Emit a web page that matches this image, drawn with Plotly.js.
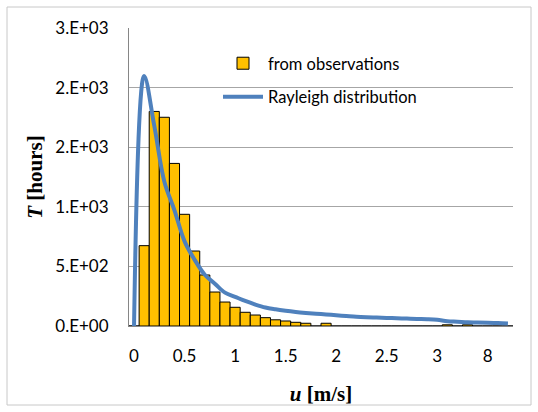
<!DOCTYPE html>
<html>
<head>
<meta charset="utf-8">
<script src="https://cdn.plot.ly/plotly-3.0.1.min.js"></script>
<style>html,body{margin:0;padding:0;background:#fff;}#chart{width:538px;height:412px;}</style>
</head>
<body>
<div id="chart"></div>
<script>
// Category labels (wind speed bins, m/s)
const categories = ['0','0.1','0.2','0.3','0.4','0.5','0.6','0.7','0.8','0.9',
  '1','1.1','1.2','1.3','1.4','1.5','1.6','1.7','1.8','1.9',
  '2','2.1','2.2','2.3','2.4','2.5','2.6','2.7','2.8','2.9',
  '3','4','5','6','7','8','9','10'];
// Hours from observations
const observedHours = [0,674,1800,1751,1364,937,629,428,285,201,
  157,115,92,70,52,42,31,23,0,23,
  0,0,0,0,0,0,0,0,0,0,
  0,10,0,10,0,0,0,0];
// Rayleigh distribution (hours)
const rayleighHours = [0,2098,1680,1210,970,710,555,430,355,280,
  245,210,180,155,140,128,118,110,103,97,
  90,84,78,74,71,68,65,62,59,57,
  52,40,36,31,30,28,25,20];
const xTickVals = ['0','0.5','1','1.5','2','2.5','3','8'];
const yTickVals = [0,500,1000,1500,2000,2500];
const yTickText = ['0.E+00','5.E+02','1.E+03','2.E+03','2.E+03','3.E+03'];

const W = 538, H = 412;
const M = {l: 129, r: 25, t: 28, b: 86};
const pw = W - M.l - M.r, ph = H - M.t - M.b;
const px = v => (v - M.l) / pw;
const py = v => (H - M.b - v) / ph;

const traces = [
  {type: 'bar', name: 'from observations', x: categories, y: observedHours,
   marker: {color: '#FFC000', line: {color: '#000000', width: 1}},
   legendgroup: 'a', hoverinfo: 'skip'},
  {type: 'scatter', mode: 'lines', name: 'Rayleigh distribution', x: categories, y: rayleighHours,
   line: {color: '#4F81BD', width: 4, shape: 'spline', smoothing: 1},
   legendgroup: 'b', hoverinfo: 'skip', cliponaxis: false}
];

const tickFont = {family: 'Lato, "Open Sans", sans-serif', size: 17, color: '#000'};
const titleFont = {family: '"Liberation Serif", "DejaVu Serif", serif', size: 21, color: '#000'};
const layout = {
  width: W, height: H, margin: M,
  paper_bgcolor: '#fff', plot_bgcolor: '#fff',
  bargap: 0, showlegend: true,
  font: tickFont,
  legend: {x: px(218), y: py(46), xanchor: 'left', yanchor: 'top',
    bgcolor: 'rgba(0,0,0,0)', font: {family: 'Lato, sans-serif', size: 16.5, color: '#000'},
    traceorder: 'grouped', tracegroupgap: 9, itemwidth: 40},
  xaxis: {type: 'category', categoryorder: 'array', categoryarray: categories,
    range: [-0.5, categories.length - 0.5], tickmode: 'array', tickvals: xTickVals,
    ticks: '', showgrid: false, showline: true, linecolor: '#868686', linewidth: 1,
    zeroline: false, tickfont: tickFont, ticklabelstandoff: 15,
    title: {text: '<b><i>u</i> [m/s]</b>', font: titleFont, standoff: 20}, automargin: true},
  yaxis: {range: [0, 2500], tickmode: 'array', tickvals: yTickVals, ticktext: yTickText,
    ticks: '', showgrid: true, gridcolor: '#A6A6A6', gridwidth: 1,
    showline: true, linecolor: '#868686', linewidth: 1, zeroline: false,
    tickfont: tickFont, ticklabelstandoff: 16, automargin: true,
    title: {text: '<b><i>T</i> [hours]</b>', font: titleFont, standoff: 6}},
  shapes: [
    {type: 'rect', xref: 'paper', yref: 'paper', x0: px(7), x1: px(531), y0: py(405), y1: py(7),
     line: {color: '#C8C8C8', width: 1}, fillcolor: 'rgba(0,0,0,0)', layer: 'below'}
  ]
};

Plotly.newPlot('chart', traces, layout, {displayModeBar: false, staticPlot: true});
</script>
</body>
</html>
